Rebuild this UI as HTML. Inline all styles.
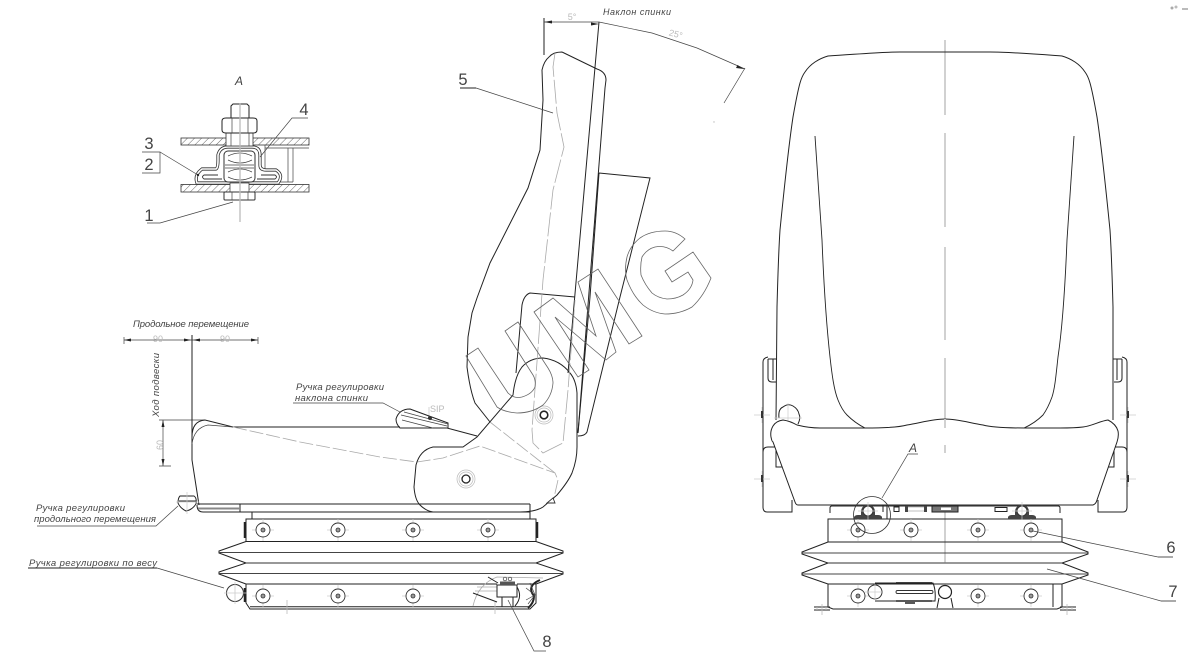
<!DOCTYPE html>
<html><head><meta charset="utf-8"><style>
html,body{margin:0;padding:0;background:#fff;width:1191px;height:655px;overflow:hidden}
svg{display:block}
text{font-family:"Liberation Sans",sans-serif;fill:#333}
.i{font-style:italic;font-size:9.5px;fill:#444}
.n{font-size:16.5px;fill:#444}
.g{font-size:9px;fill:#bbb}
.l{fill:none;stroke:#222;stroke-width:1}
.t{fill:none;stroke:#444;stroke-width:.7}
.h{fill:none;stroke:#aaa;stroke-width:.8}
.w{fill:none;stroke:#666;stroke-width:.8}
</style></head><body>
<svg width="1191" height="655" viewBox="0 0 1191 655" xmlns="http://www.w3.org/2000/svg">
<defs>
<pattern id="hp" width="5" height="5" patternUnits="userSpaceOnUse" patternTransform="rotate(45)"><line x1="0" y1="0" x2="0" y2="5" stroke="#444" stroke-width=".8"/></pattern>
<g id="b"><path d="M-11 0H11M0-11V11" stroke="#ccc" stroke-width=".7"/><circle r="7" fill="#fff" stroke="#333" stroke-width=".9"/><circle r="2" fill="#999" stroke="#333" stroke-width=".8"/></g>
<g id="sh"><path class="l" d="M763 507V362Q763 358 768 357M763 507Q763 512 767 512H792V500M763 452Q763 447 768 447H775M776 447V467H783M768 359V378Q768 382 772 382H776M773 359V380M768 359H777"/><path d="M754 415H770M762 407V423M754 479H770M762 471V487" stroke="#ccc" stroke-width=".7"/><rect x="761" y="411" width="2" height="7" fill="#333"/><rect x="761" y="475" width="2" height="7" fill="#333"/></g>
<g id="arch"><path d="M-14 6Q-13 4 -10 4H-7V0Q-6-6 0-6Q6-6 7 0V4H10Q13 4 14 6V8H-14Z" fill="#444"/><circle r="5" fill="#fff" stroke="#333" stroke-width="1"/><path d="M-10 0H10M0-9V9" stroke="#ccc" stroke-width=".7"/></g>
</defs>

<!-- top-right marks -->
<circle cx="1172" cy="8" r="1.500" fill="#aaa"/><circle cx="1176" cy="7" r="1.500" fill="#bbb"/><rect x="1182" y="8" width="6" height="2" fill="#bbb"/>

<!-- Detail A -->
<text x="239" y="85" text-anchor="middle" class="i" style="font-size:12px">А</text>
<rect x="181" y="138" width="128" height="7" fill="url(#hp)" stroke="#333" stroke-width=".8"/>
<rect x="181" y="184.500" width="128" height="7.500" fill="url(#hp)" stroke="#333" stroke-width=".8"/>
<path class="t" d="M265 145V170M288 148V182M293 148V182M265 148H309M280 182H293"/>
<path d="M202 183H197Q194 175 202 169H216Q218 168 218 160V155Q220 147 228 147H252Q260 147 260 155V165Q260 170 266 170H276Q284 175 278 183H202" fill="none" stroke="#333" stroke-width="3.200"/>
<path d="M202 183H197Q194 175 202 169H216Q218 168 218 160V155Q220 147 228 147H252Q260 147 260 155V165Q260 170 266 170H276Q284 175 278 183H202" fill="none" stroke="#fff" stroke-width="1.600"/>
<path d="M218 175H204Q201 177 204 179H222M261 175H275Q278 177 275 179H257" fill="none" stroke="#333" stroke-width=".9"/>
<rect x="224" y="151" width="31" height="31" rx="4" fill="#fff" stroke="#333"/>
<path class="t" d="M225 165H254M225 168H254M228 156Q240 150 252 156M228 160Q240 166 252 160M228 177Q240 183 252 177M228 172Q240 166 252 172"/>
<rect x="226" y="133" width="27" height="13" fill="#fff" stroke="#333" stroke-width=".8"/>
<path class="t" d="M231 133V146M249 133V146"/>
<rect x="230" y="183" width="19" height="9" fill="#fff" stroke="#333" stroke-width=".7"/>
<rect x="224" y="192" width="31" height="8" rx="1" fill="#fff" stroke="#333"/>
<path class="t" d="M232 192V200M248 192V200"/>
<path d="M222 121Q222 118 226 118H253Q257 118 257 121V130Q257 133 253 133H226Q222 133 222 130Z" fill="#fff" stroke="#222"/>
<path class="l" d="M231 118V106L233 104H247L249 106V118"/>
<path class="t" d="M232 118V133M248 118V133"/>
<path d="M240 103V222" stroke="#bbb" stroke-width="1.300"/>
<text x="149" y="149" text-anchor="middle" class="n">3</text>
<text x="149" y="170" text-anchor="middle" class="n">2</text>
<path class="t" d="M142 173H160V152H142M160 152L198 175"/>
<circle cx="198" cy="175" r="1.200" fill="#222"/>
<text x="304" y="115" text-anchor="middle" class="n">4</text>
<path class="t" d="M308 118H292L260 157"/>
<text x="149" y="221" text-anchor="middle" class="n">1</text>
<path class="t" d="M147 223H160L233 202"/>

<!-- Side view labels & dims -->
<text x="133" y="327" class="i" textLength="116">Продольное перемещение</text>
<path class="t" d="M124 337V344M258 337V344M124 340H258"/>
<path d="M124 340l7-1.500v3zM191 340l-7-1.500v3zM193 340l7-1.500v3zM258 340l-7-1.500v3z" fill="#222"/>
<text x="158" y="342" text-anchor="middle" class="g">90</text>
<text x="225" y="342" text-anchor="middle" class="g">90</text>
<text transform="translate(159,417) rotate(-90)" class="i" textLength="64">Ход подвески</text>
<path class="t" d="M159 420H205M163 420V466M159 466H171"/>
<path d="M163 420l-1.500 7h3zM163 466l-1.500-7h3z" fill="#222"/>
<text transform="translate(163,450) rotate(-90)" class="g">60</text>
<text x="36" y="511" class="i" textLength="89">Ручка регулировки</text>
<text x="34" y="522" class="i" textLength="122">продольного перемещения</text>
<path class="t" d="M37 526H156L178 506"/>
<text x="29" y="566" class="i" textLength="128">Ручка регулировки по весу</text>
<path d="M28 568H157" stroke="#222" stroke-width="1"/>
<path class="t" d="M157 568L224 588"/>
<text x="296" y="390" class="i" textLength="88">Ручка регулировки</text>
<text x="295" y="401" class="i" textLength="73">наклона спинки</text>
<path class="t" d="M293 403H383L400 412"/>
<text x="430" y="412" class="g">SIP</text>
<path d="M429 407V418" stroke="#ccc" stroke-width=".8"/>

<!-- Side view seat -->
<path class="l" d="M192 335V460L199 505"/>
<path class="l" d="M192 437Q192 421 205 420L233 427H400"/>
<path class="t" d="M192 444Q194 428 208 425L233 427"/>
<path class="l" d="M400 428H447L477 436"/>
<path class="l" d="M197 505Q197 512 203 512H240V504M197 504H530M240 512H430"/>
<path d="M198 508.500H240" stroke="#888" stroke-width="2"/>
<path class="h" stroke-dasharray="14 3" d="M233 427L300 442L380 457L417 462L443 458L480 446L555 473L558 480L553 502"/>
<path class="h" stroke-dasharray="14 3" d="M490 422L555 473"/>
<path class="l" d="M463 447H433Q420 450 416 465L414 487Q415 500 420 505Q426 511 433 512H520Q535 512 543 507L557 495Q568 482 572 473Q577 460 577 447V393Q576 380 570 373Q560 360 543 358Q530 358 522 367Q515 376 513 395L477 437Z"/>
<path class="l" d="M562 52Q553 52 549 57Q544 61 542 70L543 100L540 150L528 188L490 263L477 298L472 313L468 337L467 367Q470 390 475 403L490 422M562 52L597 69Q606 72 606 80L605 88L578 433"/>
<path class="l" d="M599 22L568 373M544 18V55M599 173L590 297L578 433M599 173L650 178L620 297L587 432Q585 436 578 436"/>
<path class="l" d="M575 297L530 293Q524 295 522 305L516 373"/>
<path class="h" stroke-dasharray="24 3" d="M555 53L553 67L557 113L564 147L553 190L543 280L532 430L533 443L543 453L563 443L568 390L575 300"/>
<path d="M547 503L553 498L555 503Z" fill="#fff" stroke="#333" stroke-width=".9"/>
<path class="t" d="M544 22H599L652 33L697 48L745 69M745 68L724 103"/>
<path d="M544 22l8-1.500v3zM599 24l-8-1.500v3zM744 69l-8-1 1.500-3z" fill="#222"/>
<text x="603" y="15" class="i" textLength="68" style="font-size:9px">Наклон спинки</text>
<text x="572" y="20" text-anchor="middle" class="g">5°</text>
<text x="675" y="37" text-anchor="middle" class="g" transform="rotate(15 675 37)">25°</text>
<text x="463" y="85" text-anchor="middle" class="n">5</text>
<path class="t" d="M476 88L553 113"/>
<path d="M460 88H476" stroke="#555" stroke-width="1.300"/>
<circle cx="714" cy="122" r=".7" fill="#bbb"/>

<!-- back handle -->
<path class="l" d="M410 409L448 423V428L400 428Q396 424 396 419Q399 409 410 409Z"/>
<path class="t" d="M401 415L447 426M402 420L433 428M404 412L448 424"/>
<circle cx="430" cy="418" r="2" fill="#333"/>

<!-- pivots -->
<g fill="none"><circle cx="466" cy="479" r="9" stroke="#bbb" stroke-width=".7"/><circle cx="466" cy="479" r="7" stroke="#bbb" stroke-width=".7"/><circle cx="466" cy="479" r="4" stroke="#222" stroke-width="1.300"/><circle cx="544" cy="415" r="9" stroke="#bbb" stroke-width=".7"/><circle cx="544" cy="415" r="7" stroke="#bbb" stroke-width=".7"/><circle cx="544" cy="415" r="3.800" stroke="#222" stroke-width="1.600"/></g>

<!-- side base -->
<rect x="246" y="519" width="290" height="22.500" fill="none" stroke="#222"/>
<path class="l" d="M252 512V519M530 504V519M252 512H530"/>
<path class="l" d="M246 541.500L219 551V553L246 563L219 572V574L246 584V603L250 609H530L536 603V584L563 574V572L536 563L563 553V551L536 541.500"/>
<path d="M219 552.500H563M219 573.500H563" stroke="#444" stroke-width="1"/>
<path d="M246 563H536" stroke="#777" stroke-width="1.500"/>
<path class="l" d="M246 584H497M517 584H536M250 606.700H530"/>
<use href="#b" x="263" y="530"/><use href="#b" x="338" y="530"/><use href="#b" x="413" y="530"/><use href="#b" x="488" y="530"/>
<use href="#b" x="263" y="596"/><use href="#b" x="338" y="596"/><use href="#b" x="413" y="596"/>
<path d="M245 522V538M537 522V538M245 588V602" stroke="#222" stroke-width="2.500"/>
<path d="M287 600V614M495 602V614" stroke="#bbb" stroke-width=".8"/>
<!-- longitudinal handle -->
<path class="l" d="M180 496H194Q197 498 196 504Q192 510 186 511Q180 508 178 503Q178 498 180 496ZM179 501H196"/>
<path d="M187 492V514M176 502H199" stroke="#ccc" stroke-width=".7"/>
<!-- weight knob -->
<circle cx="235" cy="593" r="8.500" fill="#fff" stroke="#333"/>
<path d="M235 582V604M224 593H247" stroke="#ccc" stroke-width=".8"/>
<!-- right mechanism -->
<path class="h" d="M473 606Q478 584 497 577L543 578M477 587H497M475 591H497"/>
<path class="l" d="M488 577L498 583M473 593L497 602"/>
<rect x="497" y="585" width="20" height="12" fill="#fff" stroke="#222"/>
<rect x="500" y="581.500" width="15" height="3.500" fill="#555"/>
<circle cx="505" cy="579" r="1.800" fill="none" stroke="#333" stroke-width=".7"/><circle cx="510" cy="579" r="1.800" fill="none" stroke="#333" stroke-width=".7"/>
<path class="l" d="M502 597V607M513 597V607M517 587Q523 597 515 606"/>
<path d="M540 580Q526 586 534 596Q534 603 528 608" fill="none" stroke="#222" stroke-width="2"/>
<path class="t" d="M526 588L535 595L526 600M528 604L535 595L530 583"/>
<text x="547" y="647" text-anchor="middle" class="n">8</text>
<path class="t" d="M508 600L534 651H546"/>

<!-- Watermark -->
<path class="w" d="M466 356L478 348L508 393Q514 399 522 397Q532 394 535 387Q536 380 533 375L505 331L518 322L548 368Q553 376 553 383Q552 396 543 405Q532 413 517 413Q504 412 497 407Z"/>
<path class="w" d="M534 312L553 298L596 336L578 282L598 269L642 336L629 344L595 292L616 352L606 360L555 317L589 370L578 377Z"/>
<path class="w" d="M685 239Q676 231 665 231Q650 231 640 238Q630 246 627 257Q624 270 627 280Q633 296 643 305Q653 313 665 314Q680 314 692 307Q704 296 711 278L693 252L665 271L672 282L688 272L693 280Q692 289 683 295Q676 299 667 299Q658 298 652 293Q645 285 641 275Q640 265 642 257Q647 249 655 247Q665 245 673 251Z"/>

<!-- Front view -->
<path d="M945 40V115M945 133V227M945 247V340M945 358V453M945 470V563" stroke="#ccc" stroke-width="1.800"/>
<path class="l" d="M776 420L777 307C778 270 779 245 780 230C784 190 788 150 793 117C796 100 798 90 800 83Q802 76 805 72Q809 66 815 62Q821 58 828 56C860 54 880 52 900 52H990C1010 52 1035 54 1062 56Q1069 58 1075 62Q1081 66 1085 72Q1088 76 1090 83C1092 90 1094 100 1097 117C1102 150 1106 190 1110 230C1111 245 1112 270 1113 307L1113 420"/>
<path class="l" style="stroke-width:.9" d="M815 136L822 240C824 290 827 330 830 357C832 375 834 390 838 400Q842 410 847 415Q855 423 865 428M1074 136L1067 240C1065 290 1062 330 1058 357C1056 375 1055 388 1052 397Q1048 408 1043 415Q1035 423 1024 428"/>
<use href="#sh"/><use href="#sh" transform="matrix(-1 0 0 1 1890 0)"/>
<path class="l" d="M779 418Q778 409 783 407Q788 403 793 406Q798 409 799 414Q801 418 798 424"/>
<path d="M788 403V432M774 418H802" stroke="#ccc" stroke-width=".7"/>
<path d="M783 420Q776 421 773 426Q770 431 771 437Q772 442 773 442L795 502Q796 505 798 505H1093Q1096 504 1097 500L1117 442Q1119 436 1118 431Q1116 424 1108 420C1100 421 1092 426 1083 427C1075 428 1068 428 1060 428H1025C1005 428 990 427 983 425C970 423 958 419 945 419C932 419 920 423 907 425C900 427 885 428 865 428H820C812 428 805 427 797 425Q790 421 783 420Z" fill="#fff" stroke="#222" stroke-width="1"/>
<path d="M945 419V428M945 445V453" stroke="#ccc" stroke-width="1.800"/>
<path class="l" d="M830 513V508Q830 506 832 506H1058Q1060 506 1060 508V513"/>
<path d="M832 505.500H1058" stroke="#333" stroke-width="1.300"/>
<rect x="828" y="519" width="234" height="23" fill="none" stroke="#222"/>
<path class="l" d="M828 542L802 552V554L828 563L802 573V575L828 584V607L833 609H1057L1062 607V584L1088 575V573L1062 563L1088 554V552L1062 542"/>
<path d="M802 553H1088M802 574H1088" stroke="#444" stroke-width="1.100"/>
<path d="M828 563H1062" stroke="#777" stroke-width="1.500"/>
<path class="l" d="M828 584H1062M1053 584V607"/>
<path class="l" d="M814 607H830M814 610H830M1060 607H1076M1060 610H1076"/>
<path d="M822 604V615M1067 604V615M817 607V610M826 607V610M1063 607V610M1072 607V610" stroke="#bbb" stroke-width=".8"/>
<use href="#b" x="858" y="530"/><use href="#b" x="911" y="530"/><use href="#b" x="978" y="530"/><use href="#b" x="1031" y="530"/>
<use href="#b" x="858" y="596"/><use href="#b" x="978" y="596"/><use href="#b" x="1031" y="596"/>
<!-- front handle -->
<path class="l" d="M875 583H933Q936 590 935 601H875"/>
<path d="M896 583H932" stroke="#222" stroke-width="1.800"/>
<path d="M896 601H932M905 603H915" stroke="#222" stroke-width="1.500"/>
<rect x="896" y="590.500" width="37" height="3" rx="1.500" fill="#fff" stroke="#333" stroke-width=".9"/>
<circle cx="875" cy="592" r="7" fill="#fff" stroke="#333"/>
<path d="M865 592H882M875 584V600" stroke="#ccc" stroke-width=".7"/>
<circle cx="945" cy="592" r="6.500" fill="#fff" stroke="#222" stroke-width="1.200"/>
<path class="l" d="M939 598L937 608M951 598L953 608"/>
<!-- top mechanisms -->
<use href="#arch" x="868" y="511"/>
<use href="#arch" x="1022" y="511"/>
<path class="l" d="M887 505V519M883 505V512"/>
<rect x="894" y="507" width="5" height="4.500" fill="#fff" stroke="#222"/>
<rect x="905" y="506" width="3" height="6" fill="#444"/><rect x="924" y="506" width="3" height="6" fill="#444"/>
<path class="h" d="M908 507H924M908 511H924"/>
<rect x="932" y="506" width="26" height="6" fill="#777" stroke="#222"/>
<rect x="941" y="507.500" width="10" height="2.500" fill="#fff"/>
<rect x="995" y="507.500" width="12" height="4" fill="#fff" stroke="#222"/>
<circle cx="872" cy="515" r="18.500" fill="none" stroke="#333" stroke-width=".8"/>
<path class="t" d="M882 498L908 454H918"/>
<text x="913" y="452" text-anchor="middle" class="i" style="font-size:12px">А</text>
<text x="1171" y="553" text-anchor="middle" class="n">6</text>
<path class="t" d="M1033 531L1158 557"/><path d="M1158 557H1173" stroke="#555" stroke-width="1"/>
<text x="1173" y="597" text-anchor="middle" class="n">7</text>
<path class="t" d="M1047 569L1161 601"/><path d="M1161 601H1176" stroke="#555" stroke-width="1"/>
</svg>
</body></html>
